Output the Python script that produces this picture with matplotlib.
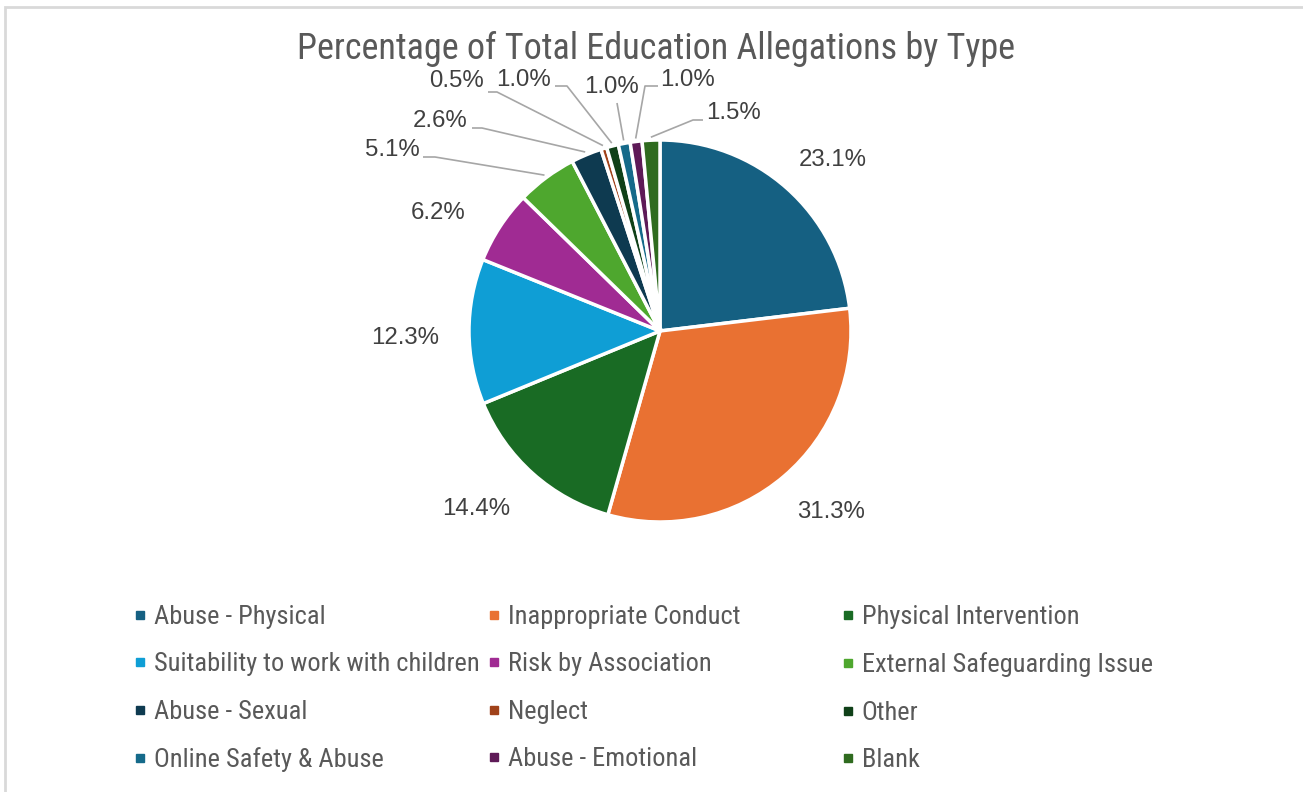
import numpy as np
import matplotlib.pyplot as plt
from matplotlib.lines import Line2D
from matplotlib.patches import Rectangle

# allegation categories and their share of the total (%)
categories = ['Abuse - Physical', 'Inappropriate Conduct', 'Physical Intervention',
              'Suitability to work with children', 'Risk by Association',
              'External Safeguarding Issue', 'Abuse - Sexual', 'Neglect', 'Other',
              'Online Safety & Abuse', 'Abuse - Emotional', 'Blank']
shares = [23.1, 31.3, 14.4, 12.3, 6.2, 5.1, 2.6, 0.5, 1.0, 1.0, 1.0, 1.5]
colors = ['#156082', '#E97132', '#196B24', '#0F9ED5', '#A02B93', '#4EA72E',
          '#0E3A50', '#A0421A', '#0F4018', '#156A8A', '#5E1A57', '#2F6B1F']

W, H = 1303, 792
NARROW = 'Roboto Condensed'
fig = plt.figure(figsize=(W / 100, H / 100), dpi=100)
ax = fig.add_axes([0, 0, 1, 1])

cx, cy, R = 660, H - 331, 191
wedges, _ = ax.pie(shares, colors=colors, startangle=90, counterclock=False,
                   center=(cx, cy), radius=R, frame=True,
                   wedgeprops=dict(edgecolor='white', linewidth=2.5))
ax.set_xlim(0, W)
ax.set_ylim(0, H)
ax.set_aspect('equal')
ax.axis('off')

# chart area border
ax.add_patch(Rectangle((5, -10), W + 20, H - 7 + 10, fill=False,
                       edgecolor='#D9D9D9', linewidth=2))

ax.text(656, H - 49, 'Percentage of Total Education Allegations by Type',
        ha='center', va='center', fontsize=26, color='#595959', family=NARROW)

# label centres (pixels from top-left) and leader elbows for the thin slices
label_pos = [(833, 160), (831, 512), (476, 509), (405, 338), (438, 213),
             (392, 150), (440, 121), (457, 81), (524, 80), (611, 87),
             (688, 80), (734, 113)]
leaders = {5: [(435, 157), (423, 157)],
           6: [(482, 128), (472, 128)],
           7: [(497, 92), (488, 92)],
           8: [(567, 86), (555, 86)],
           9: [(617, 103)],
           10: [(645, 86), (658, 86)],
           11: [(693, 120), (703, 120)]}

for i, (w, v) in enumerate(zip(wedges, shares)):
    lx, ly = label_pos[i]
    ax.text(lx, H - ly, f'{v:.1f}%', ha='center', va='center', fontsize=17.3,
            color='#404040', family='Liberation Sans')
    if i in leaders:
        mid = np.deg2rad((w.theta1 + w.theta2) / 2)
        pts = [(cx + (R + 3) * np.cos(mid), cy + (R + 3) * np.sin(mid))]
        pts += [(x, H - y) for x, y in leaders[i]]
        xs, ys = zip(*pts)
        ax.plot(xs, ys, color='#A6A6A6', linewidth=1.2, solid_capstyle='butt')

# legend, three columns filled row by row
col_x = [133, 487, 841]
for c in range(3):
    idx = [c, c + 3, c + 6, c + 9]
    handles = [Line2D([], [], marker='s', linestyle='none', markersize=5.5,
                      color=colors[k]) for k in idx]
    fig.legend(handles, [categories[k] for k in idx], loc='upper left',
               bbox_to_anchor=(col_x[c] / W, 1 - 605 / H), frameon=False,
               labelspacing=0.89, handlelength=0.5, handletextpad=0.28,
               borderpad=0, borderaxespad=0,
               prop=dict(family=NARROW, size=19), labelcolor='#595959')

fig.savefig('out.png', dpi=100)
